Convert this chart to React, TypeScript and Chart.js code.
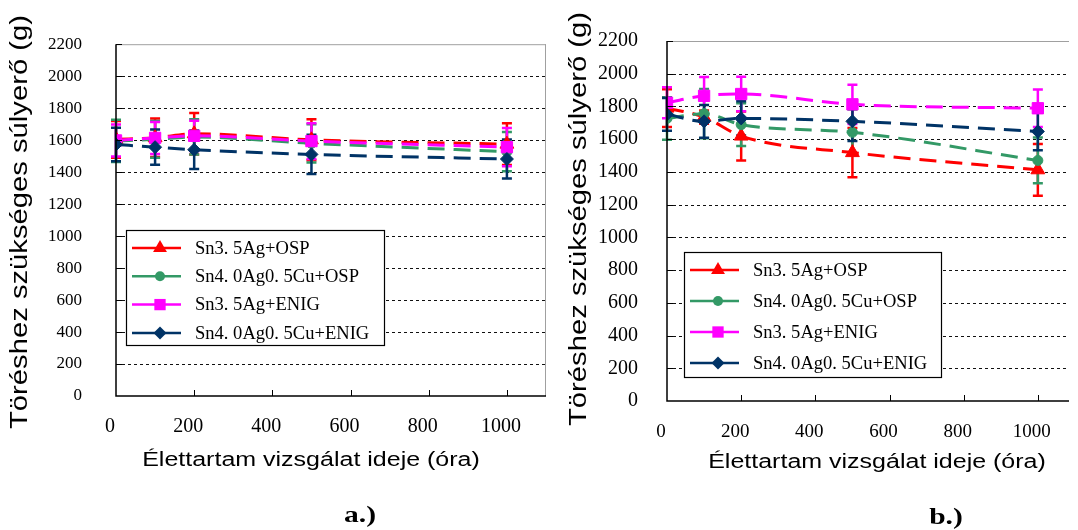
import React, { useEffect, useRef } from "react";
import { Chart, registerables } from "chart.js";

Chart.register(...registerables);

// ---------- data ----------
const hours = [0, 100, 200, 500, 1000];
const seriesLabels = ["Sn3. 5Ag+OSP", "Sn4. 0Ag0. 5Cu+OSP", "Sn3. 5Ag+ENIG", "Sn4. 0Ag0. 5Cu+ENIG"];

// panel a.)
const aSn35Osp = [1605, 1615, 1640, 1602, 1575];
const aSn35OspErr = [115, 120, 130, 128, 131];
const aSn40Osp = [1595, 1605, 1620, 1580, 1528];
const aSn40OspErr = [132, 115, 110, 120, 123];
const aSn35Enig = [1598, 1614, 1627, 1594, 1556];
const aSn35EnigErr = [100, 100, 95, 112, 120];
const aSn40Enig = [1573, 1556, 1540, 1511, 1482];
const aSn40EnigErr = [105, 110, 120, 122, 122];

// panel b.)
const bSn35Osp = [1790, 1735, 1619, 1518, 1413];
const bSn35OspErr = [115, 40, 150, 150, 158];
const bSn40Osp = [1727, 1756, 1689, 1642, 1470];
const bSn40OspErr = [130, 150, 130, 140, 140];
const bSn35Enig = [1823, 1865, 1876, 1813, 1789];
const bSn35EnigErr = [95, 115, 105, 120, 115];
const bSn40Enig = [1752, 1709, 1727, 1709, 1647];
const bSn40EnigErr = [100, 100, 105, 120, 115];

const yTitle = "Töréshez szükséges súlyerő (g)";
const xTitle = "Élettartam vizsgálat ideje (óra)";

// ---------- styles ----------
const COLORS = ["#FF0000", "#339966", "#FF00FF", "#003366"];
const STYLES = ["triangle", "circle", "rect", "rectRot"];
const RADII = [8, 5, 8, 6.5];
const SERIF = "'Liberation Serif', 'DejaVu Serif', serif";
const SANS = "'Liberation Sans', Arial, sans-serif";

type Panel = {
  left: number;
  width: number;
  yAxisW: number;
  padTop: number;
  padRight: number;
  xAxisH: number;
  xMax: number;
  yTickSize: number;
  yTickPad: number;
  xTickSize: number;
  xTickPad: number;
  legend: { left: number; top: number; w: number; h: number; row0: number; rowGap: number };
  yTitlePos: { x: number; y: number };
  xTitlePos: { x: number; y: number };
  tag: { text: string; x: number; y: number };
  rightBorder: boolean;
  values: number[][];
  errors: number[][];
};

const panelA: Panel = {
  left: 0,
  width: 560,
  yAxisW: 116,
  padTop: 16,
  padRight: 14,
  xAxisH: 134,
  xMax: 1100,
  yTickSize: 17,
  yTickPad: 34,
  xTickSize: 20,
  xTickPad: 19,
  legend: { left: 126, top: 230, w: 258, h: 115, row0: 18, rowGap: 28.3 },
  yTitlePos: { x: 21, y: 222 },
  xTitlePos: { x: 311, y: 466 },
  tag: { text: "a.)", x: 360, y: 522 },
  rightBorder: true,
  values: [aSn35Osp, aSn40Osp, aSn35Enig, aSn40Enig],
  errors: [aSn35OspErr, aSn40OspErr, aSn35EnigErr, aSn40EnigErr],
};

const panelB: Panel = {
  left: 560,
  width: 518,
  yAxisW: 107,
  padTop: 17,
  padRight: 0,
  xAxisH: 129,
  xMax: 1084,
  yTickSize: 20,
  yTickPad: 29,
  xTickSize: 19,
  xTickPad: 20,
  legend: { left: 124, top: 252, w: 257, h: 125, row0: 18, rowGap: 31 },
  yTitlePos: { x: 20, y: 219 },
  xTitlePos: { x: 317, y: 468 },
  tag: { text: "b.)", x: 386, y: 524 },
  rightBorder: false,
  values: [bSn35Osp, bSn40Osp, bSn35Enig, bSn40Enig],
  errors: [bSn35OspErr, bSn40OspErr, bSn35EnigErr, bSn40EnigErr],
};

function drawMarker(ctx: CanvasRenderingContext2D, style: string, x: number, y: number, r: number, color: string) {
  ctx.save();
  ctx.fillStyle = color;
  ctx.beginPath();
  if (style === "triangle") {
    ctx.moveTo(x, y - r);
    ctx.lineTo(x + r * 0.866, y + r * 0.5);
    ctx.lineTo(x - r * 0.866, y + r * 0.5);
    ctx.closePath();
  } else if (style === "circle") {
    ctx.arc(x, y, r, 0, Math.PI * 2);
  } else if (style === "rect") {
    const s = r * Math.SQRT1_2;
    ctx.rect(x - s, y - s, 2 * s, 2 * s);
  } else {
    ctx.moveTo(x, y - r);
    ctx.lineTo(x + r, y);
    ctx.lineTo(x, y + r);
    ctx.lineTo(x - r, y);
    ctx.closePath();
  }
  ctx.fill();
  ctx.restore();
}

function stretchedText(
  ctx: CanvasRenderingContext2D,
  text: string,
  x: number,
  y: number,
  font: string,
  sx: number,
  rotate: number,
  baseline: CanvasTextBaseline,
  align: CanvasTextAlign
) {
  ctx.save();
  ctx.translate(x, y);
  ctx.rotate(rotate);
  ctx.scale(sx, 1);
  ctx.font = font;
  ctx.fillStyle = "#000";
  ctx.textAlign = align;
  ctx.textBaseline = baseline;
  ctx.fillText(text, 0, 0);
  ctx.restore();
}

function makePlugin(p: Panel) {
  return {
    id: "decor",
    beforeDatasetsDraw(chart: any) {
      const { ctx, chartArea: ca, scales } = chart;
      const x = scales.x;
      const y = scales.y;
      ctx.save();
      // dashed horizontal gridlines
      ctx.strokeStyle = "#111";
      ctx.lineWidth = 1;
      ctx.setLineDash([3, 3]);
      y.ticks.forEach((t: any) => {
        if (t.value <= y.min || t.value >= y.max) return;
        const py = Math.round(y.getPixelForValue(t.value)) + 0.5;
        ctx.beginPath();
        ctx.moveTo(ca.left, py);
        ctx.lineTo(ca.right, py);
        ctx.stroke();
      });
      ctx.setLineDash([]);
      // error bars
      p.values.forEach((vals, si) => {
        const errs = p.errors[si];
        ctx.strokeStyle = COLORS[si];
        ctx.lineWidth = 2.5;
        vals.forEach((v, i) => {
          const px = x.getPixelForValue(hours[i]);
          const top = y.getPixelForValue(v + errs[i]);
          const bot = y.getPixelForValue(v - errs[i]);
          ctx.beginPath();
          ctx.moveTo(px, top);
          ctx.lineTo(px, bot);
          ctx.moveTo(px - 5, top);
          ctx.lineTo(px + 5, top);
          ctx.moveTo(px - 5, bot);
          ctx.lineTo(px + 5, bot);
          ctx.stroke();
        });
      });
      ctx.restore();
    },
    afterDraw(chart: any) {
      const { ctx, chartArea: ca, scales } = chart;
      const x = scales.x;
      const y = scales.y;
      ctx.save();
      // frame
      ctx.lineWidth = 1;
      ctx.strokeStyle = "#A0A0A0";
      ctx.beginPath();
      ctx.moveTo(ca.left, ca.top + 0.5);
      ctx.lineTo(ca.right, ca.top + 0.5);
      if (p.rightBorder) {
        ctx.moveTo(ca.right - 0.5, ca.top);
        ctx.lineTo(ca.right - 0.5, ca.bottom);
      }
      ctx.stroke();
      ctx.strokeStyle = "#000";
      ctx.lineWidth = 1.5;
      ctx.beginPath();
      ctx.moveTo(ca.left, ca.top);
      ctx.lineTo(ca.left, ca.bottom);
      ctx.lineTo(ca.right, ca.bottom);
      ctx.stroke();
      // inner tick marks
      ctx.lineWidth = 1;
      ctx.beginPath();
      x.ticks.forEach((t: any) => {
        if (t.value <= 0) return;
        const px = Math.round(x.getPixelForValue(t.value)) + 0.5;
        ctx.moveTo(px, ca.bottom);
        ctx.lineTo(px, ca.bottom - 6);
      });
      y.ticks.forEach((t: any) => {
        if (t.value <= 0) return;
        const py = Math.round(y.getPixelForValue(t.value)) + 0.5;
        ctx.moveTo(ca.left, py);
        ctx.lineTo(ca.left + 6, py);
      });
      ctx.stroke();

      // legend
      const L = p.legend;
      ctx.fillStyle = "#fff";
      ctx.fillRect(L.left, L.top, L.w, L.h);
      ctx.strokeStyle = "#000";
      ctx.lineWidth = 1.2;
      ctx.strokeRect(L.left + 0.5, L.top + 0.5, L.w, L.h);
      seriesLabels.forEach((lab, i) => {
        const ry = L.top + L.row0 + i * L.rowGap;
        ctx.strokeStyle = COLORS[i];
        ctx.lineWidth = 2.5;
        ctx.beginPath();
        ctx.moveTo(L.left + 6, ry);
        ctx.lineTo(L.left + 55, ry);
        ctx.stroke();
        drawMarker(ctx, STYLES[i], L.left + 34, ry, RADII[i], COLORS[i]);
        stretchedText(ctx, lab, L.left + 69, ry + 1, `18px ${SERIF}`, 1.03, 0, "middle", "left");
      });

      // titles
      stretchedText(ctx, yTitle, p.yTitlePos.x, p.yTitlePos.y, `23px ${SANS}`, 1.27, -Math.PI / 2, "middle", "center");
      stretchedText(ctx, xTitle, p.xTitlePos.x, p.xTitlePos.y, `20px ${SANS}`, 1.25, 0, "alphabetic", "center");
      stretchedText(ctx, p.tag.text, p.tag.x, p.tag.y, `bold 24px ${SERIF}`, 1.23, 0, "alphabetic", "center");
      ctx.restore();
    },
  };
}

function ChartPanel({ panel }: { panel: Panel }) {
  const ref = useRef<HTMLCanvasElement | null>(null);
  useEffect(() => {
    if (!ref.current) return;
    const order = [3, 2, 1, 0];
    const datasets = panel.values.map((vals, i) => ({
      label: seriesLabels[i],
      data: hours.map((h, j) => ({ x: h, y: vals[j] })),
      borderColor: COLORS[i],
      backgroundColor: COLORS[i],
      borderWidth: 3,
      borderDash: [17, 9],
      pointStyle: STYLES[i] as any,
      pointRadius: RADII[i],
      pointBorderWidth: 1,
      pointBackgroundColor: COLORS[i],
      pointBorderColor: COLORS[i],
      cubicInterpolationMode: "monotone" as const,
      fill: false,
      order: order[i],
    }));
    const chart = new Chart(ref.current, {
      type: "line",
      data: { datasets },
      options: {
        animation: false,
        responsive: false,
        maintainAspectRatio: false,
        layout: { padding: { left: 0, top: panel.padTop, right: panel.padRight, bottom: 0 } },
        plugins: { legend: { display: false }, tooltip: { enabled: false }, title: { display: false } },
        scales: {
          x: {
            type: "linear",
            min: 0,
            max: panel.xMax,
            grid: { display: false, drawTicks: false },
            border: { display: false },
            ticks: {
              stepSize: 200,
              includeBounds: false,
              padding: panel.xTickPad,
              labelOffset: -6,
              maxRotation: 0,
              autoSkip: false,
              color: "#000",
              font: { family: SERIF, size: panel.xTickSize },
              callback: (v: any) => String(v),
            },
            afterFit: (s: any) => {
              s.height = panel.xAxisH;
            },
          },
          y: {
            type: "linear",
            min: 0,
            max: 2200,
            grid: { display: false, drawTicks: false },
            border: { display: false },
            ticks: {
              stepSize: 200,
              padding: panel.yTickPad,
              color: "#000",
              font: { family: SERIF, size: panel.yTickSize },
              callback: (v: any) => String(v),
            },
            afterFit: (s: any) => {
              s.width = panel.yAxisW;
            },
          },
        },
      },
      plugins: [makePlugin(panel)],
    });
    return () => chart.destroy();
  }, [panel]);
  return (
    <canvas
      ref={ref}
      width={panel.width}
      height={530}
      style={{ position: "absolute", left: panel.left, top: 0, width: panel.width, height: 530, display: "block" }}
    />
  );
}

export default function App() {
  return (
    <div style={{ position: "absolute", left: 0, top: 0, width: 1078, height: 530, background: "#fff", overflow: "hidden" }}>
      <ChartPanel panel={panelA} />
      <ChartPanel panel={panelB} />
    </div>
  );
}
